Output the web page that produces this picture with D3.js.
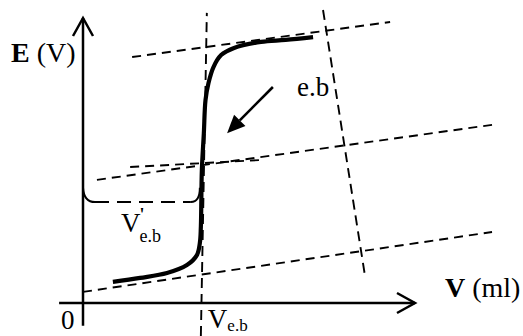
<!DOCTYPE html>
<html>
<head>
<meta charset="utf-8">
<script src="https://cdn.jsdelivr.net/npm/d3@7"></script>
<style>
  html, body { margin: 0; padding: 0; background: #fff; }
  svg { display: block; }
  text { font-family: "Liberation Serif", "Times New Roman", serif; fill: #000; }
</style>
</head>
<body>
<svg id="chart"></svg>
<script>
// titration curve E = f(V), in chart units (V: 0..100 along the x axis, E: 0..100 up the y axis)
const curveV = [9.0, 17.2, 25.3, 31.3, 34.3, 35.2, 35.5, 35.8, 36.4, 36.9, 37.8, 39.3, 41.6, 45.5, 53.6, 61.0, 69.3];
const curveE = [7.4, 8.8, 10.5, 13.3, 16.8, 21.1, 26.7, 46.7, 59.6, 71.2, 77.2, 82.8, 87.0, 89.5, 91.6, 92.3, 93.3];

// construction lines (x1, y1, x2, y2) in the same units
const tangentNames = ["upper", "middle", "short", "lower", "vertical", "right"];
const tangentX1 = [14.8, 4.2, 14.2, 0.0, 35.5, 72.3];
const tangentY1 = [86.3, 43.2, 47.7, 3.9, -11.6, 102.8];
const tangentX2 = [92.5, 123.2, 53.9, 123.2, 37.3, 84.9];
const tangentY2 = [98.6, 62.5, 50.2, 24.9, 101.8, 9.8];

// equivalence volumes and potential level for the bracket
const veb = 35.5;
const eBracket = 35.4;
const eBracketTop = 40.4;

// arrow pointing to the equivalence point
const arrowFrom = [57.2, 75.8];
const arrowTo = [43.4, 59.6];

class TitrationChart {
    width = 523;
    height = 336;

    constructor(svg) {
        this.svg = d3.select(svg)
            .attr("width", this.width)
            .attr("height", this.height);
        this.x = d3.scaleLinear().domain([0, 100]).range([83, 415]);
        this.y = d3.scaleLinear().domain([0, 100]).range([303, 18]);
    }

    draw() {
        const x = this.x, y = this.y, svg = this.svg;

        // axes
        svg.append("line")
            .attr("x1", x(-7.2)).attr("x2", x(100))
            .attr("y1", y(0)).attr("y2", y(0))
            .attr("stroke", "#000").attr("stroke-width", 2.5);
        svg.append("line")
            .attr("x1", x(0)).attr("x2", x(0))
            .attr("y1", y(-8)).attr("y2", y(100))
            .attr("stroke", "#000").attr("stroke-width", 2.5);

        // open arrow heads
        const head = d3.line();
        svg.append("path")
            .attr("d", head([[x(100) - 18, y(0) - 10], [x(100), y(0)], [x(100) - 18, y(0) + 10]]))
            .attr("fill", "none").attr("stroke", "#000").attr("stroke-width", 2.5);
        svg.append("path")
            .attr("d", head([[x(0) - 10, y(100) + 18], [x(0), y(100)], [x(0) + 10, y(100) + 18]]))
            .attr("fill", "none").attr("stroke", "#000").attr("stroke-width", 2.5);

        // dashed construction lines
        const dashes = { upper: "9,6", middle: "9,6", short: "9,6", lower: "9,6", vertical: "10,6", right: "10,6" };
        svg.append("g")
            .selectAll("line")
            .data(tangentNames)
            .join("line")
            .attr("x1", (d, i) => x(tangentX1[i]))
            .attr("y1", (d, i) => y(tangentY1[i]))
            .attr("x2", (d, i) => x(tangentX2[i]))
            .attr("y2", (d, i) => y(tangentY2[i]))
            .attr("stroke", "#000")
            .attr("stroke-width", 1.9)
            .attr("stroke-dasharray", d => dashes[d]);

        // bracket for V'e.b : solid rounded ends, dashed middle
        const yb = y(eBracket), yt = y(eBracketTop);
        svg.append("path")
            .attr("d", `M${x(0)},${yt} Q${x(0) + 1},${yb} ${x(0) + 12},${yb}`)
            .attr("fill", "none").attr("stroke", "#000").attr("stroke-width", 2);
        svg.append("path")
            .attr("d", `M${x(veb) - 10},${yb} Q${x(veb) - 1},${yb} ${x(veb) - 1},${yt}`)
            .attr("fill", "none").attr("stroke", "#000").attr("stroke-width", 2);
        svg.append("line")
            .attr("x1", x(0) + 12).attr("x2", x(veb) - 10)
            .attr("y1", yb).attr("y2", yb)
            .attr("stroke", "#000").attr("stroke-width", 2)
            .attr("stroke-dasharray", "14,8");

        // titration curve
        const pts = curveV.map((v, i) => [x(v), y(curveE[i])]);
        svg.append("path")
            .attr("d", d3.line().curve(d3.curveCatmullRom.alpha(0.5))(pts))
            .attr("fill", "none")
            .attr("stroke", "#000")
            .attr("stroke-width", 4.2)
            .attr("stroke-linecap", "butt");

        // arrow
        const ax1 = x(arrowFrom[0]), ay1 = y(arrowFrom[1]);
        const ax2 = x(arrowTo[0]), ay2 = y(arrowTo[1]);
        const ang = Math.atan2(ay2 - ay1, ax2 - ax1);
        const hl = 18, hw = 8;
        const bx = ax2 - hl * Math.cos(ang), by = ay2 - hl * Math.sin(ang);
        svg.append("line")
            .attr("x1", ax1).attr("y1", ay1).attr("x2", bx).attr("y2", by)
            .attr("stroke", "#000").attr("stroke-width", 2.6);
        svg.append("path")
            .attr("d", head([
                [ax2, ay2],
                [bx + hw * Math.sin(ang), by - hw * Math.cos(ang)],
                [bx - hw * Math.sin(ang), by + hw * Math.cos(ang)]
            ]) + "Z")
            .attr("fill", "#000");

        // labels
        const yLab = svg.append("text").attr("x", 11).attr("y", 62).attr("font-size", 28);
        yLab.append("tspan").attr("font-weight", "bold").text("E");
        yLab.append("tspan").text(" (V)");

        const xLab = svg.append("text").attr("x", 445).attr("y", 297).attr("font-size", 28);
        xLab.append("tspan").attr("font-weight", "bold").text("V");
        xLab.append("tspan").text(" (ml)");

        svg.append("text").attr("x", 61).attr("y", 329).attr("font-size", 27).text("0");

        const eb = svg.append("text").attr("x", x(veb) + 7).attr("y", 328).attr("font-size", 27);
        eb.append("tspan").text("V");
        eb.append("tspan").attr("font-size", 17).attr("dy", 3).text("e.b");

        const ebp = svg.append("text").attr("x", 121).attr("y", 232).attr("font-size", 27);
        ebp.append("tspan").text("V");
        ebp.append("tspan").attr("font-size", 18).attr("font-weight", "bold").attr("dy", -11).attr("dx", -1).text("'");
        ebp.append("tspan").attr("font-size", 18).attr("dy", 21).attr("dx", -5).text("e.b");

        svg.append("text").attr("x", 297).attr("y", 96).attr("font-size", 27).text("e.b");
    }
}

new TitrationChart(document.getElementById("chart")).draw();
</script>
</body>
</html>
